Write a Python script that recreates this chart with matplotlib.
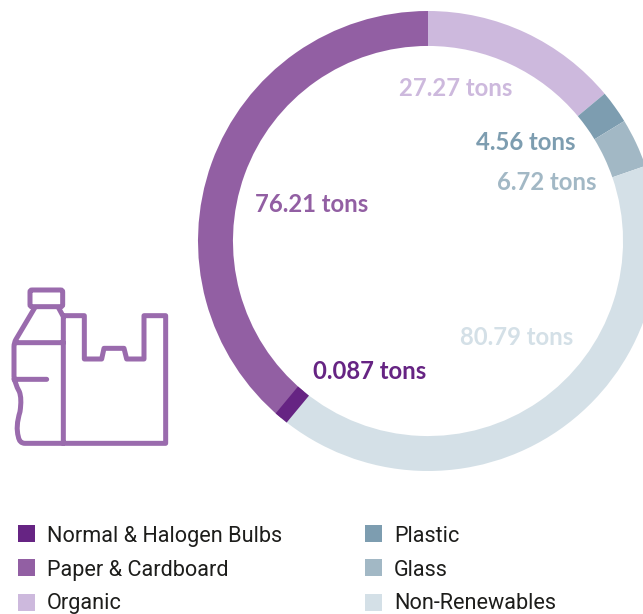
import matplotlib
matplotlib.use('Agg')
import matplotlib.pyplot as plt
import numpy as np
from matplotlib.patches import PathPatch, Rectangle, FancyBboxPatch
from matplotlib.path import Path

categories = ['Organic', 'Plastic', 'Glass', 'Non-Renewables', 'Normal & Halogen Bulbs', 'Paper & Cardboard']
tons = [27.27, 4.56, 6.72, 80.79, 0.087, 76.21]
value_labels = ['27.27 tons', '4.56 tons', '6.72 tons', '80.79 tons', '0.087 tons', '76.21 tons']
colors = ['#CDB9DD', '#7D9DB0', '#A2B8C5', '#D4E0E7', '#662483', '#925FA3']
legend_order = ['Normal & Halogen Bulbs', 'Paper & Cardboard', 'Organic', 'Plastic', 'Glass', 'Non-Renewables']

W, H = 643, 614
ICON = '#9A6BAD'
RING = 0.152
plt.rcParams['font.family'] = ['Lato', 'DejaVu Sans']

fig = plt.figure(figsize=(W / 100, H / 100), dpi=100)

# donut, in its own axes so the ring can run past the right edge
cx, cy, R = 428, 241, 230
ax_pie = fig.add_axes([(cx - R) / W, 1 - (cy + R) / H, 2 * R / W, 2 * R / H])
wedges, _ = ax_pie.pie(tons, colors=colors, startangle=90, counterclock=False, radius=1,
                       wedgeprops=dict(width=RING, linewidth=0))
ax_pie.set_xlim(-1, 1)
ax_pie.set_ylim(-1, 1)

# the bulbs slice is too thin to see, so put a thick radial line across it
bulbs = wedges[categories.index('Normal & Halogen Bulbs')]
mid = np.radians((bulbs.theta1 + bulbs.theta2) / 2)
ax_pie.plot([(1 - RING) * np.cos(mid), np.cos(mid)], [(1 - RING) * np.sin(mid), np.sin(mid)],
            color=colors[4], linewidth=10.3, solid_capstyle='butt', zorder=5)

# overlay in pixel coordinates for the texts, icon and legend
ax = fig.add_axes([0, 0, 1, 1])
ax.set_xlim(0, W)
ax.set_ylim(H, 0)
ax.axis('off')
ax.patch.set_alpha(0)

label_pos = [(456, 96), (526, 150), (547, 190), (517, 345), (370, 379), (312, 212)]
for text, pos, c in zip(value_labels, label_pos, colors):
    ax.text(pos[0], pos[1], text, color=c, fontsize=17.2, fontweight='bold',
            ha='center', va='baseline')

# bottle and bag icon
def px(x, y):
    return (x / 3, y / 3 + 270)

outline = [
    (Path.MOVETO, (105, 112)), (Path.LINETO, (48, 208)), (Path.CURVE3, (42, 218)), (Path.CURVE3, (42, 230)),
    (Path.LINETO, (42, 320)), (Path.CURVE3, (44, 340)), (Path.CURVE3, (58, 365)),
    (Path.CURVE3, (66, 385)), (Path.CURVE3, (60, 425)), (Path.CURVE3, (46, 470)), (Path.CURVE3, (55, 500)),
    (Path.CURVE3, (58, 520)), (Path.CURVE3, (75, 520)),
    (Path.LINETO, (497, 520)), (Path.LINETO, (497, 137)), (Path.LINETO, (432, 137)),
    (Path.LINETO, (432, 267)), (Path.LINETO, (380, 267)), (Path.LINETO, (372, 235)),
    (Path.LINETO, (312, 235)), (Path.LINETO, (305, 267)), (Path.LINETO, (253, 267)),
    (Path.LINETO, (253, 137)), (Path.LINETO, (190, 137)),
    (Path.MOVETO, (175, 112)), (Path.LINETO, (190, 140)), (Path.LINETO, (190, 520)),
    (Path.MOVETO, (48, 218)), (Path.LINETO, (190, 218)),
    (Path.MOVETO, (42, 328)), (Path.LINETO, (140, 328)),
]
codes = [c for c, _ in outline]
verts = [px(*p) for _, p in outline]
ax.add_patch(PathPatch(Path(verts, codes), fill=False, edgecolor=ICON, linewidth=3.6,
                       capstyle='round', joinstyle='round'))
ax.add_patch(FancyBboxPatch(px(90, 60), 98 / 3, 50 / 3, boxstyle='round,pad=0,rounding_size=2',
                            fill=False, edgecolor=ICON, linewidth=3.6))

# legend, two columns of three; texts sit on the bottom edge of the swatch
rows = [542, 576, 611]
text_rows = [542, 576, 609]
columns = [18, 365]
for i, name in enumerate(legend_order):
    x = columns[i // 3]
    ax.add_patch(Rectangle((x, rows[i % 3] - 17), 17, 17, facecolor=colors[categories.index(name)], linewidth=0))
    ax.text(x + 29, text_rows[i % 3], name, color='#1D1D1B', fontsize=15.6, va='baseline', ha='left',
            family=['Roboto', 'DejaVu Sans'], fontweight='normal')

fig.savefig('out.png', dpi=100)
